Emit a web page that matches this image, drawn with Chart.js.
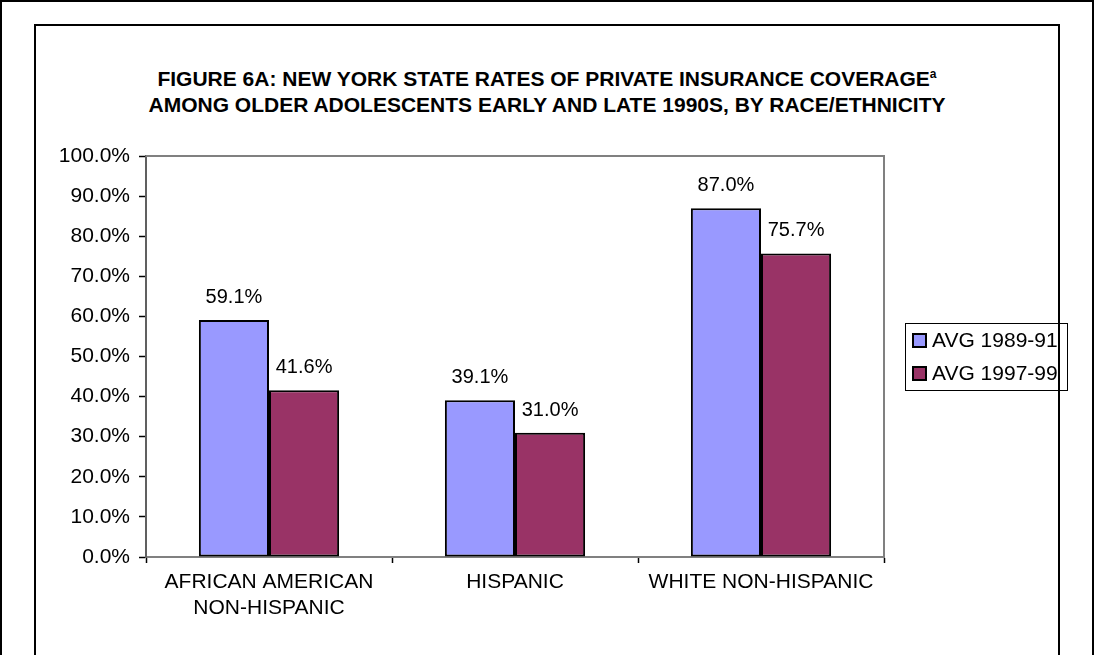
<!DOCTYPE html>
<html>
<head>
<meta charset="utf-8">
<script src="https://cdn.jsdelivr.net/npm/chart.js@4"></script>
<style>
  html, body { margin:0; padding:0; background:#fff; }
  #wrap { position:relative; width:1094px; height:655px; overflow:hidden; font-family:"Liberation Sans", Arial, sans-serif; }
  #outer { position:absolute; left:0; top:0; width:1090px; height:660px; border:2px solid #000; box-sizing:content-box; }
  #inner { position:absolute; left:34px; top:24px; width:1022px; height:700px; border:2px solid #000; }
  #title { position:absolute; left:34px; width:1026px; top:66px; text-align:center; font-weight:bold; font-size:21px; line-height:26px; color:#000; white-space:nowrap; }
  #title sup { font-size:12px; line-height:0; vertical-align:8px; }
  canvas { position:absolute; left:0; top:0; }
</style>
</head>
<body>
<div id="wrap">
  <div id="outer"></div>
  <div id="inner"></div>
  <div id="title">FIGURE 6A: NEW YORK STATE RATES OF PRIVATE INSURANCE COVERAGE<sup>a</sup><br>AMONG OLDER ADOLESCENTS EARLY AND LATE 1990S, BY RACE/ETHNICITY</div>
  <canvas id="c" width="1094" height="655"></canvas>
</div>
<script>
const categories = [["AFRICAN AMERICAN", "NON-HISPANIC"], "HISPANIC", "WHITE NON-HISPANIC"];
const seriesNames = ["AVG 1989-91", "AVG 1997-99"];
const avg8991 = [59.1, 39.1, 87.0];
const avg9799 = [41.6, 31.0, 75.7];
const colors = ["#9999FF", "#993366"];
const yTicks = [0,10,20,30,40,50,60,70,80,90,100];

const FONT = "Liberation Sans, Arial, sans-serif";

const frame = {
  id: 'frame',
  afterDraw(chart) {
    const {ctx, chartArea:a} = chart;
    ctx.save();
    ctx.strokeStyle = '#808080';
    ctx.lineWidth = 2;
    ctx.beginPath();
    ctx.moveTo(a.left, a.top); ctx.lineTo(a.right, a.top); ctx.lineTo(a.right, a.bottom);
    ctx.stroke();
    // data labels
    ctx.fillStyle = '#000';
    ctx.font = '20px ' + FONT;
    ctx.textAlign = 'center';
    ctx.textBaseline = 'alphabetic';
    chart.data.datasets.forEach((ds, i) => {
      const meta = chart.getDatasetMeta(i);
      meta.data.forEach((bar, j) => {
        ctx.fillText(ds.data[j].toFixed(1) + '%', bar.x, bar.y - 17);
      });
    });
    // legend
    const lx = 905, ly = 323, lw = 162, lh = 67;
    ctx.strokeStyle = '#000';
    ctx.lineWidth = 1;
    ctx.strokeRect(lx + 0.5, ly + 0.5, lw, lh);
    ctx.font = '21px ' + FONT;
    ctx.textAlign = 'left';
    ctx.textBaseline = 'middle';
    seriesNames.forEach((n, i) => {
      const y = ly + 17 + i * 33;
      ctx.fillStyle = colors[i];
      ctx.fillRect(lx + 8, y - 6, 13, 13);
      ctx.lineWidth = 2;
      ctx.strokeStyle = '#000';
      ctx.strokeRect(lx + 8, y - 6, 13, 13);
      ctx.fillStyle = '#000';
      ctx.fillText(n, lx + 27, y + 1);
    });
    ctx.restore();
  }
};

new Chart(document.getElementById('c'), {
  type: 'bar',
  data: {
    labels: categories,
    datasets: [
      { label: seriesNames[0], data: avg8991, backgroundColor: colors[0], borderColor: '#000', borderWidth: 2, borderSkipped: false },
      { label: seriesNames[1], data: avg9799, backgroundColor: colors[1], borderColor: '#000', borderWidth: 2, borderSkipped: false }
    ]
  },
  options: {
    responsive: false,
    animation: false,
    devicePixelRatio: 1,
    layout: { padding: { left: 0, top: 156, right: 210, bottom: 0 } },
    datasets: { bar: { categoryPercentage: 0.57, barPercentage: 1.0 } },
    plugins: { legend: { display: false }, tooltip: { enabled: false }, title: { display: false } },
    scales: {
      x: {
        grid: { display: true, drawOnChartArea: false, tickLength: 6, color: '#000', tickWidth: 1.5, offset: true },
        border: { color: '#808080', width: 2 },
        ticks: { color: '#000', font: { family: FONT, size: 21 }, padding: 7, maxRotation: 0 },
        afterFit(s) { s.height = 98; }
      },
      y: {
        min: 0, max: 100,
        afterBuildTicks(s) { s.ticks = yTicks.map(v => ({ value: v })); },
        grid: { display: true, drawOnChartArea: false, tickLength: 7, color: '#000', tickWidth: 1.5 },
        border: { color: '#606060', width: 2 },
        ticks: { color: '#000', font: { family: FONT, size: 21 }, padding: 9, callback: v => v.toFixed(1) + '%' },
        afterFit(s) { s.width = 146; }
      }
    }
  },
  plugins: [frame]
});
</script>
</body>
</html>
